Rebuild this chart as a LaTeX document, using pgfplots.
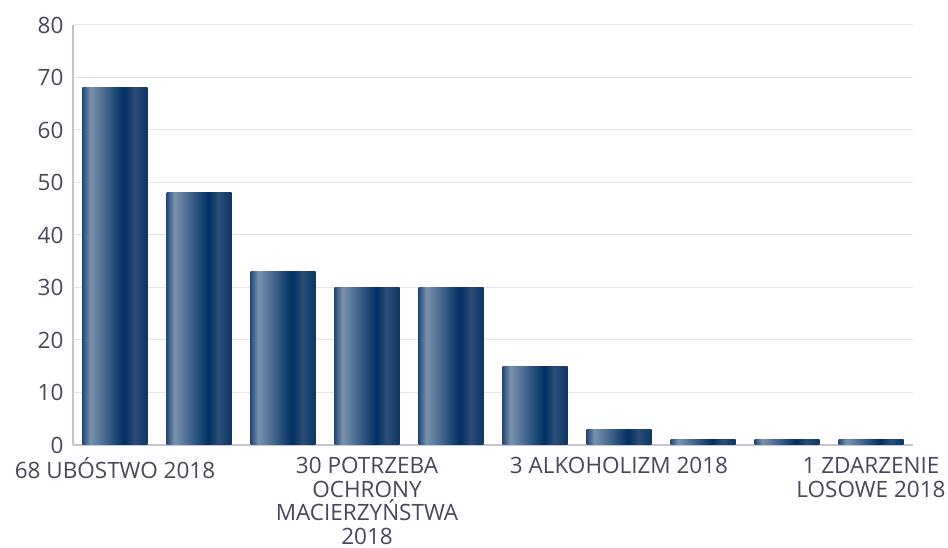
\documentclass[border=0pt]{standalone}
\usepackage{pgfplots}
\pgfplotsset{compat=1.18}
\usepackage{fontspec}
\setmainfont{Open Sans}

\definecolor{txt}{RGB}{70,72,92}
\definecolor{gridc}{RGB}{228,228,238}
\definecolor{axc}{RGB}{196,196,214}
\definecolor{bA}{RGB}{36,74,120}
\definecolor{bB}{RGB}{122,146,173}
\definecolor{bC}{RGB}{0,48,100}
\definecolor{bD}{RGB}{43,77,118}
\definecolor{bE}{RGB}{12,53,102}

% the middle 50bp of the shading covers the bar
\pgfdeclarehorizontalshading{barshade}{100bp}{
  color(0bp)=(bA); color(25bp)=(bA); color(31bp)=(bB);
  color(57bp)=(bC); color(65bp)=(bD); color(75bp)=(bE); color(100bp)=(bE)}

\begin{document}
\begin{tikzpicture}
\path[use as bounding box] (-73pt,-103pt) rectangle (875pt,445pt);
\begin{axis}[
    scale only axis,
    width=840pt, height=420pt,
    ybar, bar width=65pt, bar shift=0pt,
    xmin=-0.5, xmax=9.5,
    ymin=0, ymax=80,
    ytick={0,10,...,80},
    xtick={0,3,6,9},
    xticklabels={68 UBÓSTWO 2018,
      30 POTRZEBA\\OCHRONY\\MACIERZYŃSTWA\\2018,
      3 ALKOHOLIZM 2018,
      1 ZDARZENIE\\LOSOWE 2018},
    axis lines*=left,
    axis line style={draw=axc, line width=1.5pt},
    major tick length=0pt,
    ymajorgrids,
    grid style={draw=gridc, line width=1pt},
    tick label style={font=\fontsize{22.5}{23.5}\selectfont, text=txt},
    /pgf/number format/assume math mode=true,
    xticklabel style={align=center, yshift=-9pt},
    yticklabel style={xshift=-6pt},
    barst/.style={draw=none, shading=barshade},
  ]
% one plot per bar so that each bar gets its own shading
\addplot[barst] coordinates {(0,68)};
\addplot[barst] coordinates {(1,48)};
\addplot[barst] coordinates {(2,33)};
\addplot[barst] coordinates {(3,30)};
\addplot[barst] coordinates {(4,30)};
\addplot[barst] coordinates {(5,15)};
\addplot[barst] coordinates {(6,3)};
\addplot[barst] coordinates {(7,1)};
\addplot[barst] coordinates {(8,1)};
\addplot[barst] coordinates {(9,1)};
\end{axis}
\end{tikzpicture}
\end{document}
